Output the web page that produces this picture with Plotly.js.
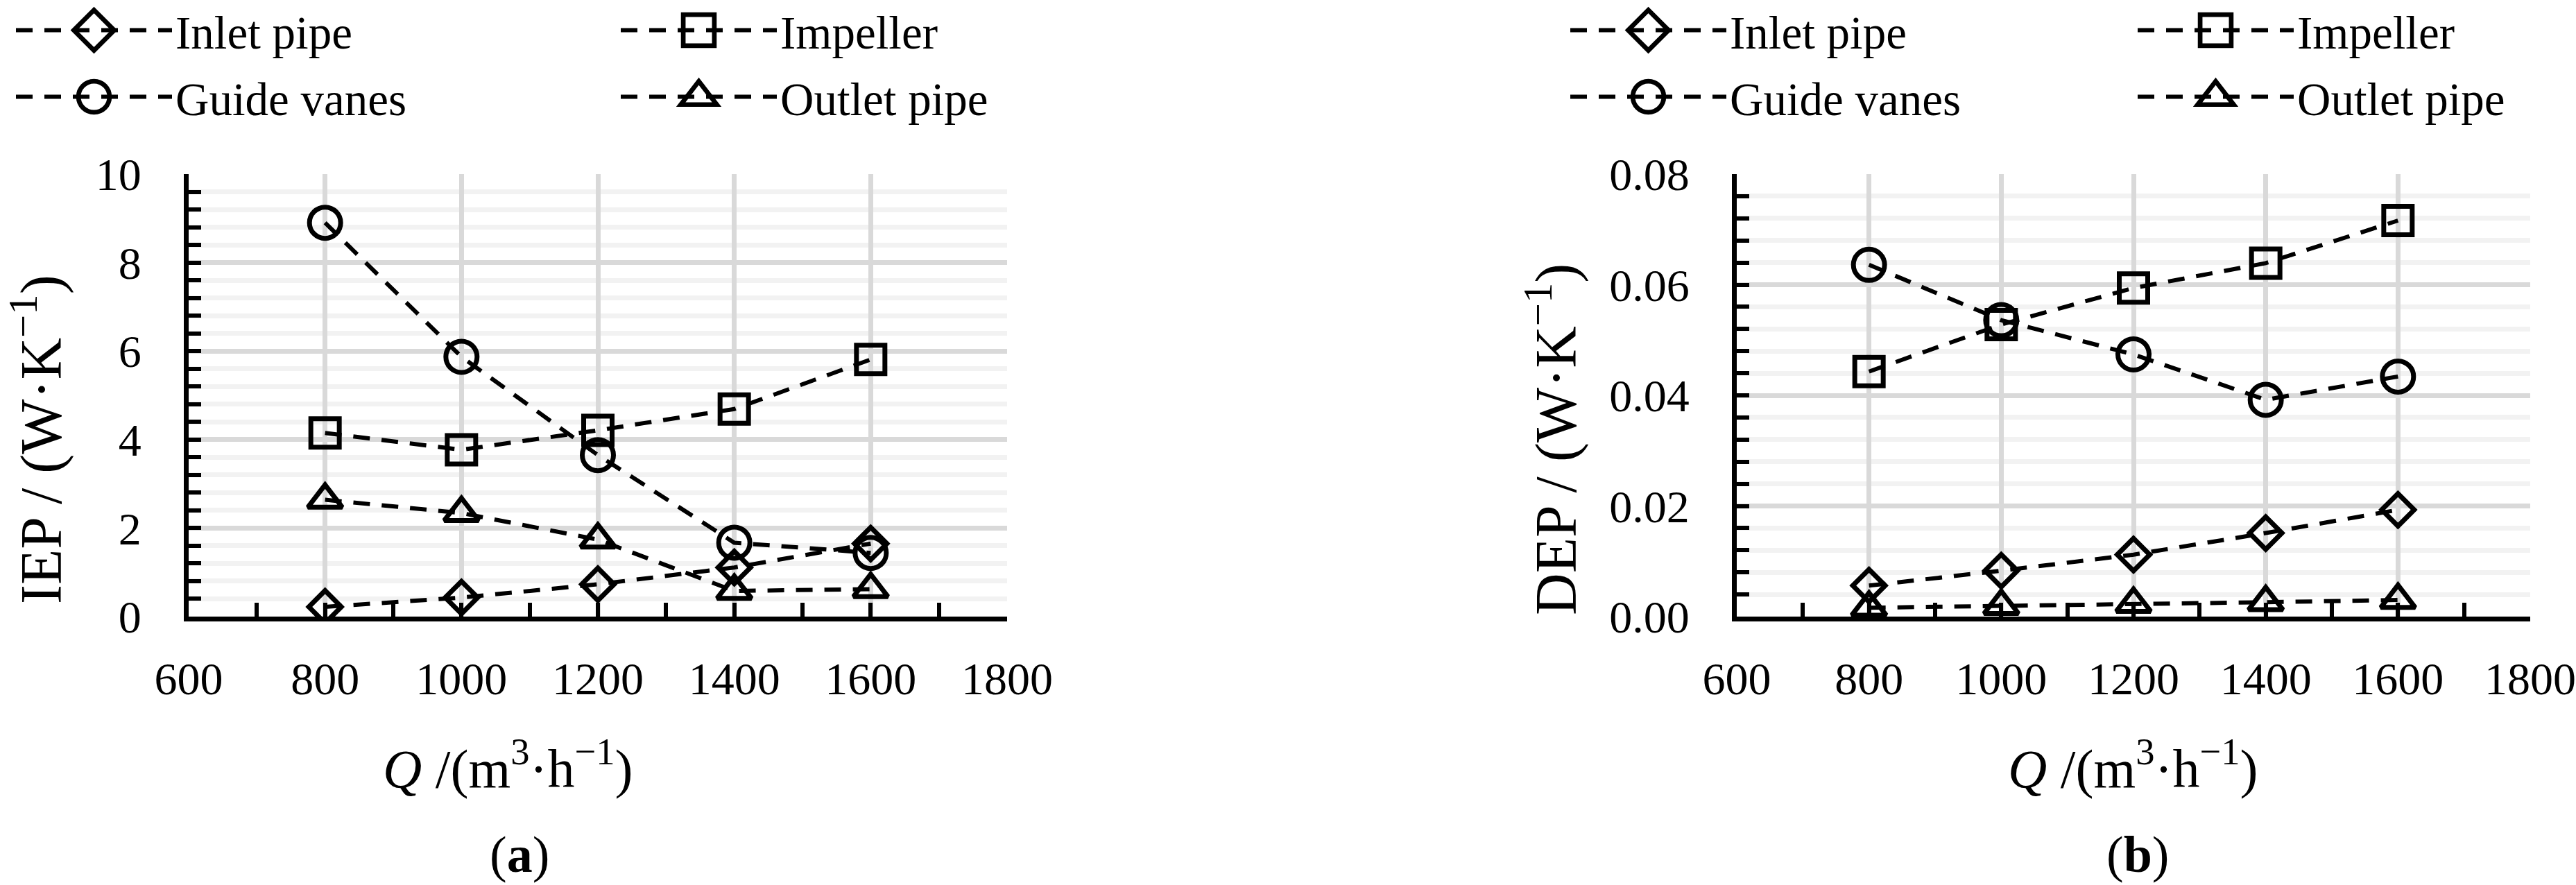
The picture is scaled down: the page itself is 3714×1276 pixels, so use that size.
<!DOCTYPE html>
<html>
<head>
<meta charset="utf-8">
<script src="https://cdn.plot.ly/plotly-3.0.1.min.js"></script>
<style>
  html, body { margin: 0; padding: 0; background: #fff; }
  #chart { width: 3714px; height: 1276px; }
</style>
</head>
<body>
<div id="chart"></div>
<script>
const W = 3714;
const H = 1276;
const FONT = 'Liberation Serif, Times New Roman, serif';

// Flow rate Q (m3/h)
const flowRates = [800, 1000, 1200, 1400, 1600];
const partNames = ['Inlet pipe', 'Impeller', 'Guide vanes', 'Outlet pipe'];

// (a) indirect entropy production, W/K
const iepInlet = [0.22, 0.43, 0.73, 1.11, 1.65];
const iepImpeller = [4.15, 3.77, 4.21, 4.69, 5.81];
const iepGuide = [8.90, 5.87, 3.65, 1.67, 1.44];
const iepOutlet = [2.64, 2.34, 1.74, 0.58, 0.62];

// (b) direct entropy production, W/K
const depInlet = [0.0056, 0.0083, 0.0112, 0.0151, 0.0193];
const depImpeller = [0.0443, 0.0528, 0.0594, 0.0639, 0.0716];
const depGuide = [0.0636, 0.0536, 0.0474, 0.0392, 0.0434];
const depOutlet = [0.0016, 0.0019, 0.0023, 0.0026, 0.0030];

// marker look per part (same order as partNames)
const partMarkers = [
  {symbol: 'diamond-open', size: 36},
  {symbol: 'square-open', size: 41},
  {symbol: 'circle-open', size: 45},
  {symbol: 'triangle-up-open', size: 43}
];

function px(x) { return x / W; }
function py(y) { return 1 - y / H; }

function partTrace(i, yValues, xaxis, yaxis, legend) {
  return {
    x: flowRates,
    y: yValues,
    name: partNames[i],
    type: 'scatter',
    mode: 'lines+markers',
    xaxis: xaxis,
    yaxis: yaxis,
    legend: legend,
    line: {color: 'black', width: 6, dash: '24px,17px'},
    marker: {
      symbol: partMarkers[i].symbol,
      size: partMarkers[i].size,
      color: 'black',
      line: {color: 'black', width: 7}
    }
  };
}

const traces = [
  partTrace(0, iepInlet, 'x', 'y', 'legend'),
  partTrace(1, iepImpeller, 'x', 'y', 'legend'),
  partTrace(2, iepGuide, 'x', 'y', 'legend2'),
  partTrace(3, iepOutlet, 'x', 'y', 'legend2'),
  partTrace(0, depInlet, 'x2', 'y2', 'legend3'),
  partTrace(1, depImpeller, 'x2', 'y2', 'legend3'),
  partTrace(2, depGuide, 'x2', 'y2', 'legend4'),
  partTrace(3, depOutlet, 'x2', 'y2', 'legend4')
];

function xAxis(domain, anchor) {
  return {
    domain: domain,
    anchor: anchor,
    range: [600, 1800],
    tick0: 600,
    dtick: 200,
    showgrid: true,
    gridcolor: '#d9d9d9',
    gridwidth: 7,
    zeroline: false,
    showline: true,
    linecolor: 'black',
    linewidth: 7,
    ticks: 'inside',
    ticklen: 20,
    tickwidth: 6,
    tickcolor: 'black',
    minor: {dtick: 100, ticks: 'inside', ticklen: 20, tickwidth: 6, tickcolor: 'black', showgrid: false},
    ticklabelstandoff: 26,
    tickfont: {family: FONT, size: 66, color: 'black'}
  };
}

function yAxis(domain, anchor, top, major, minorStep, fmt) {
  return {
    domain: domain,
    anchor: anchor,
    range: [0, top],
    tick0: 0,
    dtick: major,
    tickformat: fmt,
    showgrid: true,
    gridcolor: '#d9d9d9',
    gridwidth: 7,
    zeroline: false,
    showline: true,
    linecolor: 'black',
    linewidth: 7,
    ticks: 'inside',
    ticklen: 18,
    tickwidth: 6,
    tickcolor: 'black',
    minor: {dtick: minorStep, ticks: 'inside', ticklen: 18, tickwidth: 6, tickcolor: 'black',
            showgrid: true, gridcolor: '#f2f2f2', gridwidth: 7},
    ticklabelstandoff: 48,
    tickfont: {family: FONT, size: 66, color: 'black'}
  };
}

function legendBox(x, y, entry) {
  return {
    orientation: 'h',
    x: x, y: y,
    xanchor: 'left', yanchor: 'middle',
    itemwidth: 225,
    entrywidth: entry,
    bgcolor: 'rgba(0,0,0,0)',
    font: {family: FONT, size: 67, color: 'black'},
    itemclick: false, itemdoubleclick: false
  };
}

function label(text, x, y, size, angle) {
  return {
    text: text, xref: 'paper', yref: 'paper',
    x: px(x), y: py(y), xanchor: 'center', yanchor: 'middle',
    showarrow: false, textangle: angle || 0,
    font: {family: FONT, size: size, color: 'black'}
  };
}

const yDomain = [py(889), py(251)];

const layout = {
  width: W,
  height: H,
  margin: {l: 0, r: 0, t: 0, b: 0, autoexpand: false},
  paper_bgcolor: 'white',
  plot_bgcolor: 'white',
  xaxis: xAxis([px(272), px(1452)], 'y'),
  yaxis: yAxis(yDomain, 'x', 10, 2, 0.4, 'd'),
  xaxis2: xAxis([px(2504), px(3648)], 'y2'),
  yaxis2: yAxis(yDomain, 'x2', 0.08, 0.02, 0.004, '.2f'),
  legend: legendBox(px(18), py(44), 632),
  legend2: legendBox(px(18), py(140), 632),
  legend3: legendBox(px(2259), py(44), 578),
  legend4: legendBox(px(2259), py(140), 578),
  annotations: [
    label('IEP / (W·K<sup>−1</sup>)', 54, 634, 84, -90),
    label('DEP / (W·K<sup>−1</sup>)', 2238, 634, 84, -90),
    label('<i>Q</i> /(m<sup>3</sup>·h<sup>−1</sup>)', 732, 1102, 78),
    label('<i>Q</i> /(m<sup>3</sup>·h<sup>−1</sup>)', 3075, 1102, 78),
    label('(<b>a</b>)', 749, 1232, 74),
    label('(<b>b</b>)', 3082, 1232, 74)
  ],
  showlegend: true
};

Plotly.newPlot('chart', traces, layout, {staticPlot: true, displayModeBar: false}).then(function(gd) {
  // legend symbols are capped small by plotly, blow them up to the plot marker size
  gd.querySelectorAll('.legendpoints path.scatterpts').forEach(function(p) {
    let t = p.getAttribute('transform') || '';
    p.setAttribute('transform', t + ' scale(2.8)');
    p.style.strokeWidth = '2.4px';
  });
});
</script>
</body>
</html>
